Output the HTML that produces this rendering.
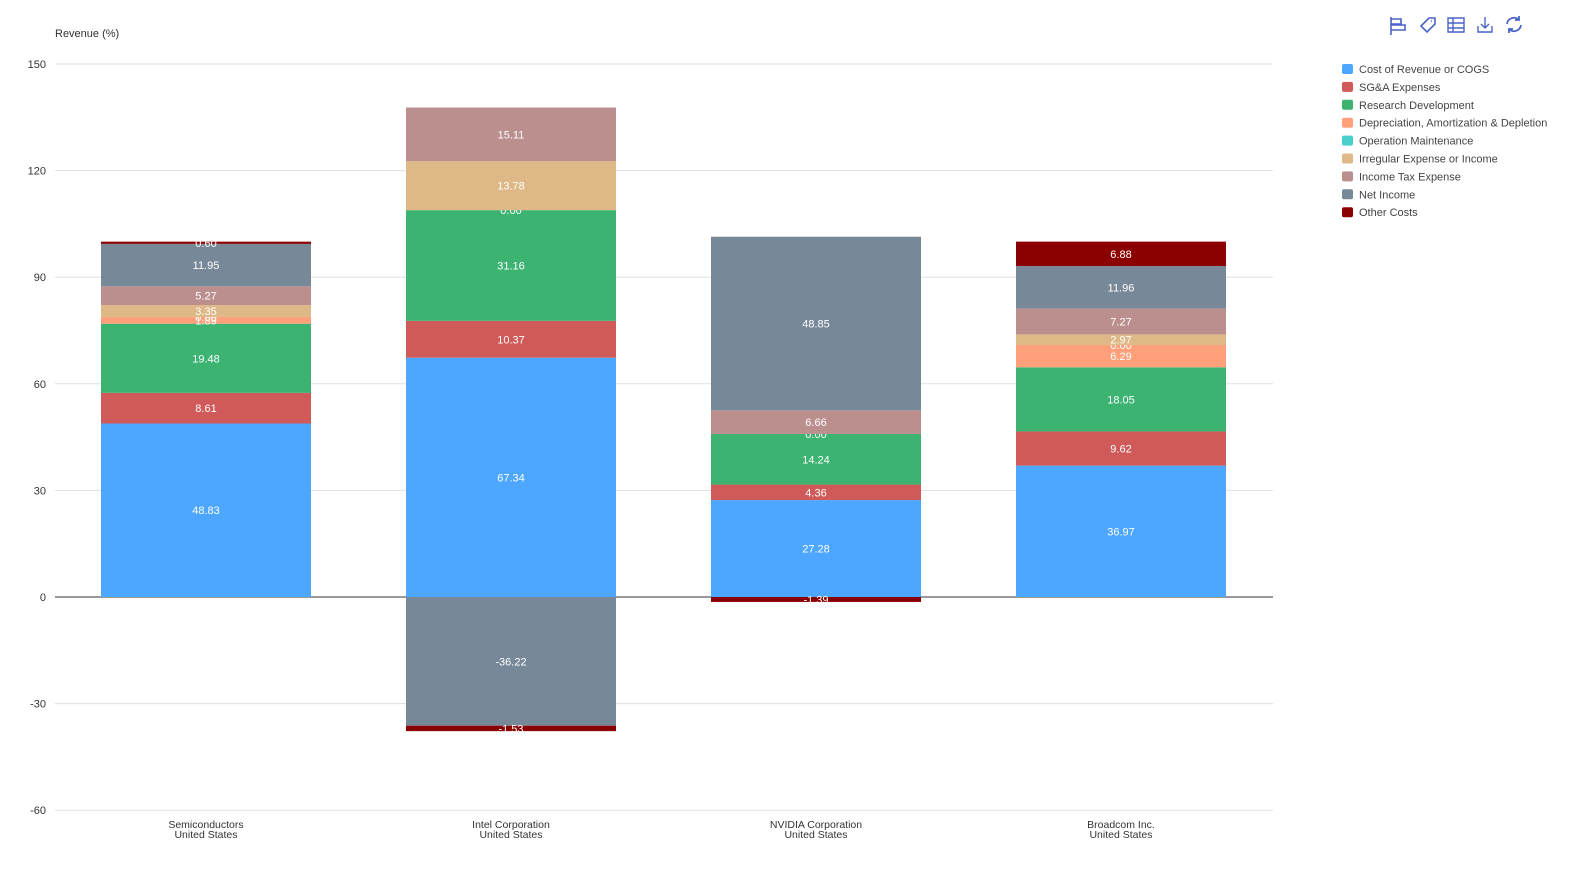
<!DOCTYPE html>
<html><head><meta charset="utf-8"><style>
body{margin:0;background:#fff;font-family:"Liberation Sans",sans-serif}
svg text{font-family:"Liberation Sans",sans-serif}
</style></head><body>
<svg id="c" width="1579" height="885" xmlns="http://www.w3.org/2000/svg"></svg>
<script>
const s=document.getElementById('c');const NS='http://www.w3.org/2000/svg';
function el(t,a,txt){const e=document.createElementNS(NS,t);for(const k in a)e.setAttribute(k,a[k]);if(txt!==undefined)e.textContent=txt;s.appendChild(e);return e;}
const Y=v=>597-v*533/150;
// grid
for(let v=-60;v<=150;v+=30){
 el('line',{x1:55,x2:1273,y1:Y(v),y2:Y(v),stroke:v==0?'#333':'#e0e0e0','stroke-width':1});
 el('text',{x:46,y:Y(v)+4,'font-size':11,fill:'#333','text-anchor':'end'},String(v));
}
el('text',{x:55,y:37,'font-size':11,fill:'#333'},'Revenue (%)');
const colors=['#4da6ff','#d05a5a','#3cb371','#ffa07a','#48d1cc','#deb887','#bc8f8f','#778899','#8b0000'];
const names=['Cost of Revenue or COGS','SG&A Expenses','Research Development','Depreciation, Amortization & Depletion','Operation Maintenance','Irregular Expense or Income','Income Tax Expense','Net Income','Other Costs'];
const data=[
 {c:206,n:['Semiconductors','United States'],v:[48.83,8.61,19.48,1.89,0.00,3.35,5.27,11.95,0.62],lab:['48.83','8.61','19.48','1.89','0.00','3.35','5.27','11.95','0.60']},
 {c:511,n:['Intel Corporation','United States'],v:[67.34,10.37,31.16,0,0.00,13.78,15.11,-36.22,-1.53],lab:['67.34','10.37','31.16',null,'0.00','13.78','15.11','-36.22','-1.53']},
 {c:816,n:['NVIDIA Corporation','United States'],v:[27.28,4.36,14.24,0,0.00,0,6.66,48.85,-1.39],lab:['27.28','4.36','14.24',null,'0.00',null,'6.66','48.85','-1.39']},
 {c:1121,n:['Broadcom Inc.','United States'],v:[36.97,9.62,18.05,6.29,0.00,2.97,7.27,11.96,6.88],lab:['36.97','9.62','18.05','6.29','0.00','2.97','7.27','11.96','6.88']}
];
data.forEach(d=>{
 let pos=0,neg=0;
 d.v.forEach((v,i)=>{
  let y0,y1;
  if(v>=0){y0=Y(pos);y1=Y(pos+v);pos+=v;}else{y0=Y(neg+v);y1=Y(neg);neg+=v;}
  const top=Math.min(y0,y1),h=Math.abs(y0-y1);
  if(h>0)el('rect',{x:d.c-105,y:top,width:210,height:h,fill:colors[i]});
  if(d.lab[i]!==null)el('text',{x:d.c,y:top+h/2+4,'font-size':11,fill:'#fff','text-anchor':'middle'},d.lab[i]);
 });
 el('text',{x:d.c,y:828,'font-size':10.5,fill:'#333','text-anchor':'middle'},d.n[0]);
 el('text',{x:d.c,y:838,'font-size':10.5,fill:'#333','text-anchor':'middle'},d.n[1]);
});
names.forEach((n,i)=>{
 const y=69+i*17.9;
 el('rect',{x:1342,y:y-5,width:11,height:10,rx:2,fill:colors[i]});
 el('text',{x:1359,y:y+4,'font-size':11,fill:'#444'},n);
});
// toolbar icons
const ic='#4a64c8';
el('path',{d:'M1391 17v18M1391 19h10v5h-10M1391 25h14v5h-14',stroke:ic,fill:'none','stroke-width':1.6});
el('path',{d:'M1421 26l8-8h6v6l-8 8zM1431 21h1',stroke:ic,fill:'none','stroke-width':1.6});
el('path',{d:'M1448 18h16v14h-16zM1448 23h16M1448 28h16M1453 18v14',stroke:ic,fill:'none','stroke-width':1.4});
el('path',{d:'M1478 26v6h14v-6M1485 17v11M1481 24l4 4 4-4',stroke:ic,fill:'none','stroke-width':1.4});
el('path',{d:'M1507 24a7 7 0 0 1 12-4M1521 25a7 7 0 0 1-12 4M1519 16v4h-4M1509 33v-4h4',stroke:ic,fill:'none','stroke-width':1.8});
</script>
</body></html>
